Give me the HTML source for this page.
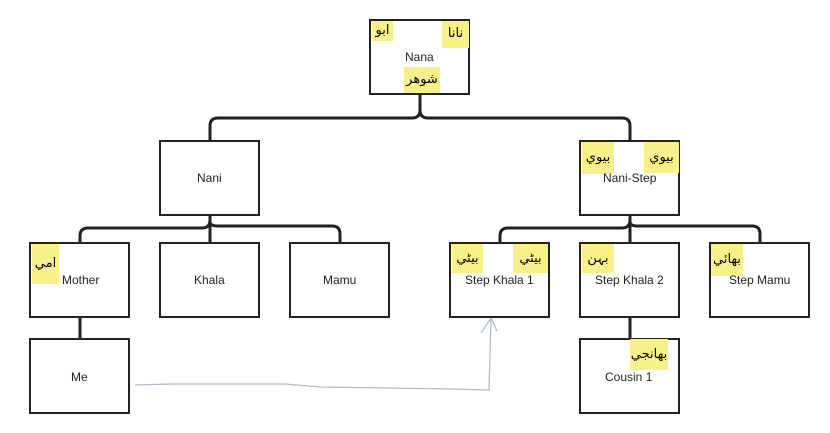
<!DOCTYPE html>
<html><head><meta charset="utf-8"><style>
body{margin:0;width:830px;height:433px;background:#fff;overflow:hidden;position:relative;font-family:"Liberation Sans",sans-serif}
.b{position:absolute;width:97px;height:72px;border:2px solid #222;background:#fff;box-sizing:content-box}
.t{position:absolute;font-size:12px;color:#222;white-space:nowrap}
.h{position:absolute;background:#fbef8a;font-family:"DejaVu Sans",sans-serif;font-size:13px;line-height:26px;text-align:center;color:#000;overflow:hidden;white-space:nowrap;letter-spacing:-1px}
svg{position:absolute;left:0;top:0}
</style></head><body>
<svg width="830" height="433">
<g fill="none" stroke="#222" stroke-width="3">
<path d="M420 94 V110 Q420 118 412 118 H218 Q210 118 210 126 V140"/>
<path d="M420 110 Q420 118 428 118 H622 Q630 118 630 126 V140"/>
<path d="M210 215 V220 Q210 228 202 228 H88 Q80 228 80 236 V242"/>
<path d="M210 215 V242"/>
<path d="M210 222 Q210 226 218 226 H332 Q340 226 340 234 V242"/>
<path d="M630 215 V220 Q630 228 622 228 H508 Q500 228 500 236 V242"/>
<path d="M630 215 V242"/>
<path d="M630 222 Q630 226 638 226 H752 Q760 226 760 234 V242"/>
<path d="M80 317 V338"/>
<path d="M630 317 V338"/>
</g>
<g fill="none" stroke="#b0b8c8" stroke-width="1.2">
<path d="M135 385 L170 384 L285 384 L320 387 L450 389 L489 390 L491 318"/>
<path d="M481 333 L491 318 L497 331"/>
</g>
</svg>
<div class="b" style="left:369px;top:19px"></div>
<div class="b" style="left:159px;top:140px"></div>
<div class="b" style="left:579px;top:140px"></div>
<div class="b" style="left:29px;top:242px"></div>
<div class="b" style="left:159px;top:242px"></div>
<div class="b" style="left:289px;top:242px"></div>
<div class="b" style="left:449px;top:242px"></div>
<div class="b" style="left:579px;top:242px"></div>
<div class="b" style="left:709px;top:242px"></div>
<div class="b" style="left:29px;top:338px"></div>
<div class="b" style="left:579px;top:338px"></div>

<div class="h" style="left:372px;top:21px;width:21px;height:20px;line-height:20px">ابو</div>
<div class="h" style="left:442px;top:21px;width:27px;height:27px">نانا</div>
<div class="h" style="left:404px;top:67px;width:36px;height:26px">شوهر</div>
<div class="t" style="left:405px;top:50px">Nana</div>
<div class="t" style="left:197px;top:171px">Nani</div>
<div class="h" style="left:582px;top:142px;width:32px;height:32px;line-height:32px">بيوي</div>
<div class="h" style="left:644px;top:142px;width:35px;height:31px;line-height:31px">بيوي</div>
<div class="t" style="left:603px;top:171px">Nani-Step</div>
<div class="h" style="left:32px;top:244px;width:27px;height:40px;line-height:40px">امي</div>
<div class="t" style="left:62px;top:273px">Mother</div>
<div class="t" style="left:194px;top:273px">Khala</div>
<div class="t" style="left:323px;top:273px">Mamu</div>
<div class="h" style="left:452px;top:244px;width:31px;height:29px;line-height:29px">بيٹي</div>
<div class="h" style="left:513px;top:244px;width:35px;height:29px;line-height:29px">بيٹي</div>
<div class="t" style="left:465px;top:273px">Step Khala 1</div>
<div class="h" style="left:582px;top:244px;width:32px;height:29px;line-height:29px">بہن</div>
<div class="t" style="left:595px;top:273px">Step Khala 2</div>
<div class="h" style="left:711px;top:244px;width:32px;height:32px;line-height:32px">بهائي</div>
<div class="t" style="left:729px;top:273px">Step Mamu</div>
<div class="t" style="left:71px;top:370px">Me</div>
<div class="h" style="left:630px;top:339px;width:38px;height:31px;line-height:31px">بهانجي</div>
<div class="t" style="left:605px;top:370px">Cousin 1</div>
</body></html>
